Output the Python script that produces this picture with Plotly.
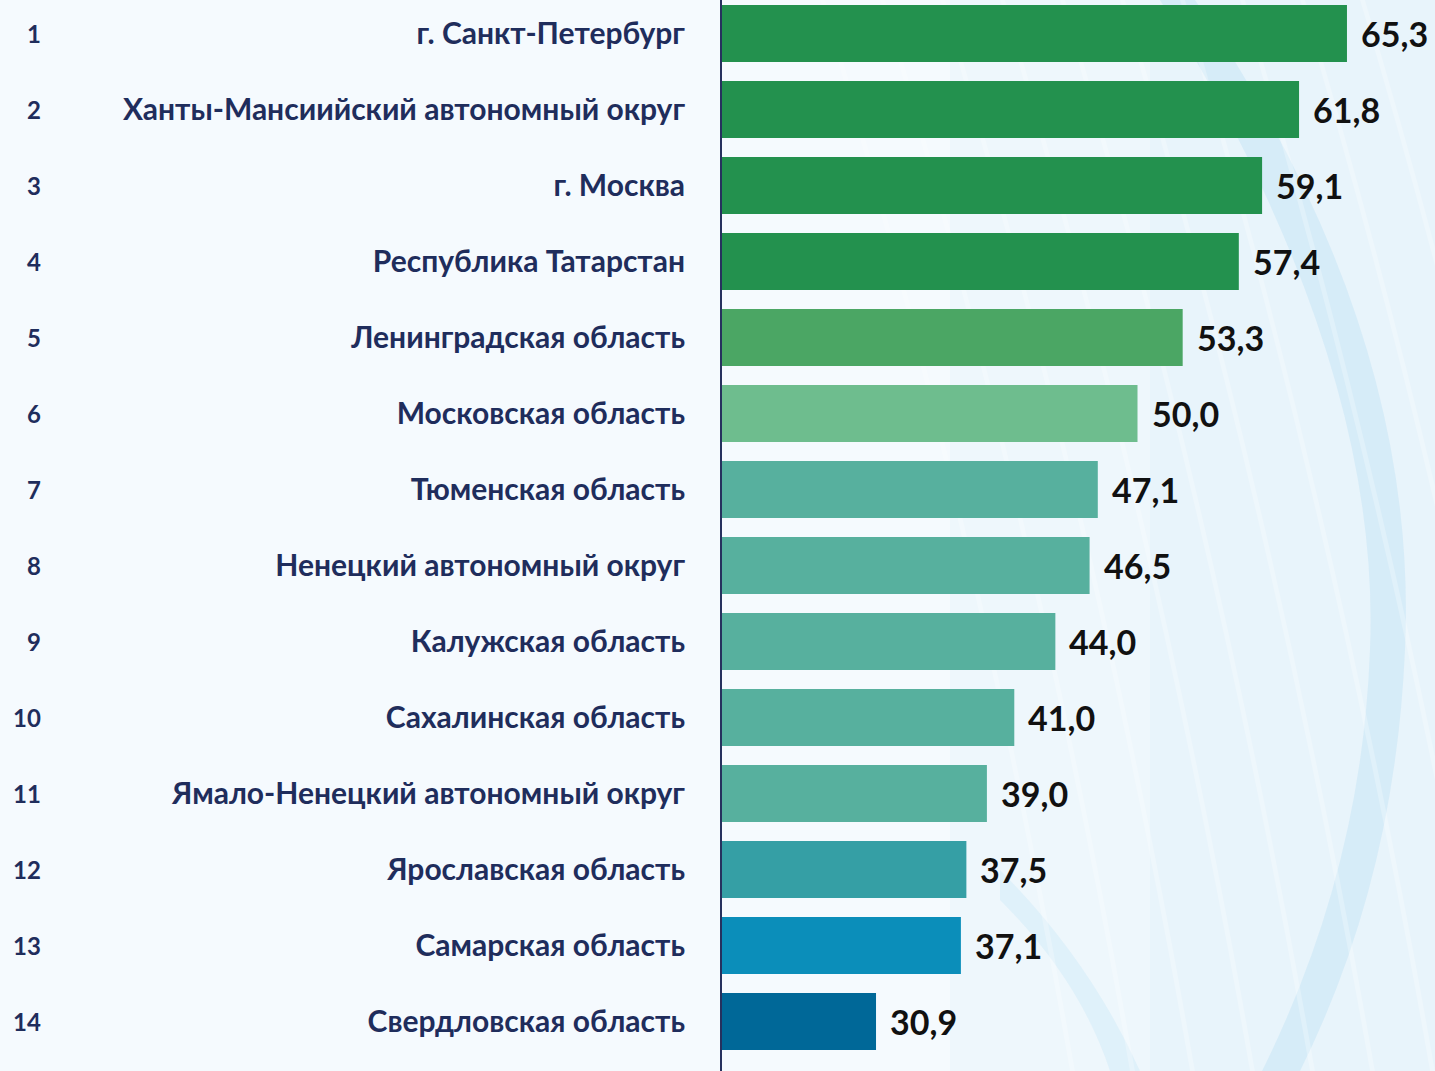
import plotly.graph_objects as go

ranks = ["1", "2", "3", "4", "5", "6", "7", "8", "9", "10", "11", "12", "13", "14"]
regions = [
    "г. Санкт-Петербург",
    "Ханты-Мансиийский автономный округ",
    "г. Москва",
    "Республика Татарстан",
    "Ленинградская область",
    "Московская область",
    "Тюменская область",
    "Ненецкий автономный округ",
    "Калужская область",
    "Сахалинская область",
    "Ямало-Ненецкий автономный округ",
    "Ярославская область",
    "Самарская область",
    "Свердловская область",
]
values = [65.3, 61.8, 59.1, 57.4, 53.3, 50.0, 47.1, 46.5, 44.0, 41.0, 39.0, 37.5, 37.1, 30.9]
colors = [
    "#23914e", "#23914e", "#23914e", "#23914e",
    "#4ba664", "#6ebd8e",
    "#57b09e", "#57b09e", "#57b09e", "#57b09e", "#57b09e",
    "#359fa5", "#0b8eba", "#006898",
]

W, H = 1435, 1071
L = 722  # left margin (axis position)

def px(x, y):
    return (x - L) / (W - L), 1 - y / H

def path_from(points_cmds):
    out = []
    for cmd, pts in points_cmds:
        coords = []
        for (x, y) in pts:
            a, b = px(x, y)
            coords.append(f"{a:.4f},{b:.4f}")
        out.append(cmd + " " + " ".join(coords))
    return " ".join(out) + " Z"

fig = go.Figure()
fig.add_trace(go.Bar(
    x=values, y=regions, orientation="h",
    marker=dict(color=colors, line=dict(width=0)),
    hoverinfo="skip",
))

shapes = []
shapes.append(dict(type="rect", xref="paper", yref="paper", x0=px(950, 0)[0], x1=1.0, y0=0, y1=1,
                   fillcolor="#e6f3fb", opacity=0.45, line=dict(width=0), layer="below"))
shapes.append(dict(type="rect", xref="paper", yref="paper", x0=px(1150, 0)[0], x1=1.0, y0=0, y1=1,
                   fillcolor="#dff0fa", opacity=0.45, line=dict(width=0), layer="below"))
arc = path_from([
    ("M", [(1195, 0)]),
    ("Q", [(1420, 330), (1405, 650)]),
    ("Q", [(1395, 880), (1300, 1071)]),
    ("L", [(1262, 1071)]),
    ("Q", [(1362, 870), (1370, 650)]),
    ("Q", [(1382, 360), (1160, 0)]),
])
shapes.append(dict(type="path", xref="paper", yref="paper", path=arc,
                   fillcolor="#cfe8f7", opacity=0.7, line=dict(width=0), layer="below"))
sw = path_from([
    ("M", [(1000, 900)]),
    ("Q", [(1080, 980), (1110, 1071)]),
    ("L", [(1140, 1071)]),
    ("Q", [(1090, 960), (1000, 870)]),
])
shapes.append(dict(type="path", xref="paper", yref="paper", path=sw,
                   fillcolor="#d6ecf8", opacity=0.6, line=dict(width=0), layer="below"))
for i in range(10):
    x0 = 820 + i * 60
    p = path_from([
        ("M", [(x0, 0)]),
        ("Q", [(x0 + 150, 500), (x0 + 250, 1071)]),
        ("L", [(x0 + 255, 1071)]),
        ("Q", [(x0 + 155, 500), (x0 + 5, 0)]),
    ])
    shapes.append(dict(type="path", xref="paper", yref="paper", path=p,
                       fillcolor="#ffffff", opacity=0.25, line=dict(width=0), layer="below"))

annotations = []
for r, reg in zip(ranks, regions):
    annotations.append(dict(
        x=px(43, 0)[0], xref="paper", y=reg, yref="y", text=r,
        xanchor="right", yanchor="middle", showarrow=False,
        font=dict(family="Lato, 'Noto Sans', sans-serif", size=24, color="#1f2d5c", weight="bold"),
    ))
for v, reg in zip(values, regions):
    annotations.append(dict(
        x=v, xref="x", y=reg, yref="y", text=f"{v:.1f}".replace(".", ","),
        xanchor="left", yanchor="middle", showarrow=False, xshift=12,
        font=dict(family="Lato, 'Noto Sans', sans-serif", size=34, color="#111111", weight="bold"),
    ))

fig.update_layout(
    width=W, height=H,
    margin=dict(l=L, r=0, t=0, b=0, pad=0),
    paper_bgcolor="#f5fafe",
    plot_bgcolor="rgba(0,0,0,0)",
    bargap=0.25,
    showlegend=False,
    shapes=shapes,
    annotations=annotations,
    xaxis=dict(range=[19.65, 71.73], showgrid=False, zeroline=False, showticklabels=False,
               showline=False, fixedrange=True),
    yaxis=dict(range=[13.651, -0.441], showgrid=False, zeroline=False,
               showline=True, linecolor="#26315e", linewidth=2,
               ticks="", ticklabelstandoff=29,
               tickfont=dict(family="Lato, 'Noto Sans', sans-serif", size=30, color="#1f2d5c", weight="bold")),
)

fig.write_html("out.html", config={"displayModeBar": False},
               post_script="document.body.style.margin='0';document.body.style.overflow='hidden';")
